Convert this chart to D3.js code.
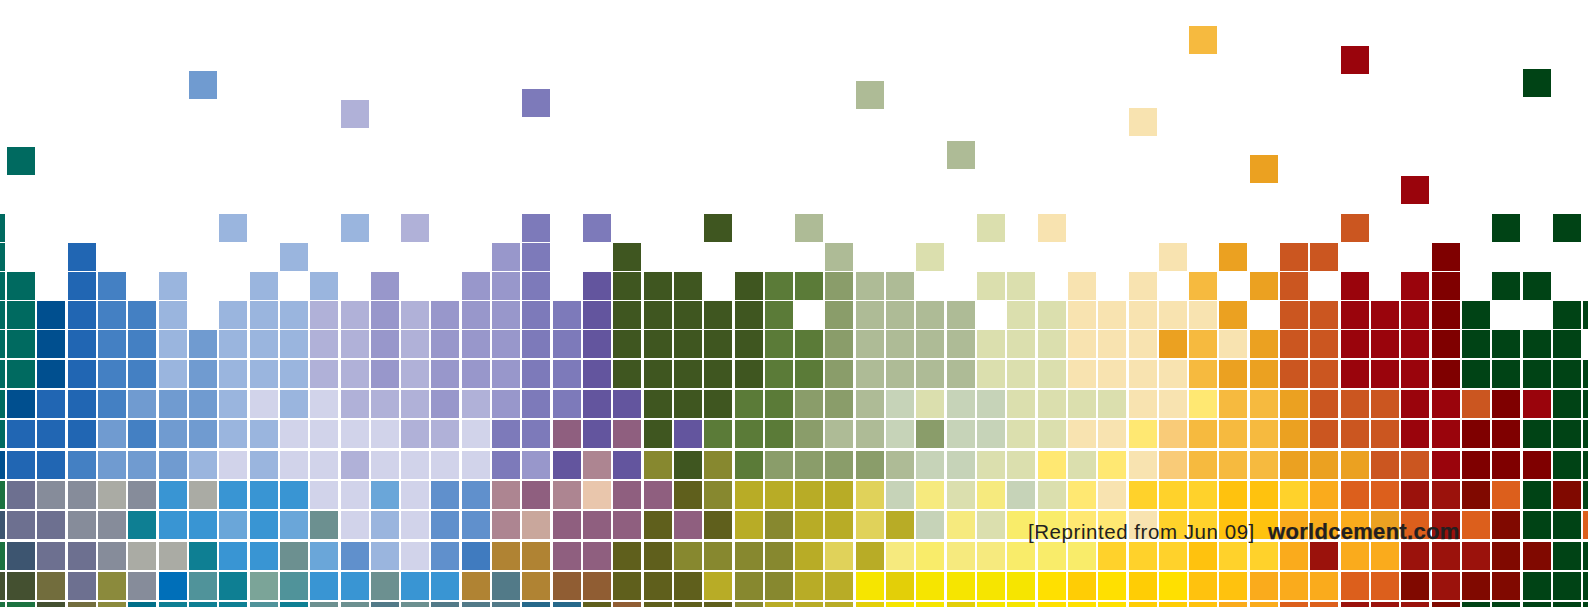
<!DOCTYPE html>
<html>
<head>
<meta charset="utf-8">
<script src="https://cdn.jsdelivr.net/npm/d3@7/dist/d3.min.js"></script>
<style>
html,body{margin:0;padding:0;background:#fff;overflow:hidden}
svg{display:block}
</style>
</head>
<body>
<script>
// column -1 .. 52, one token per column, '.' = no cell
const rowTokens = [
  "T"+".......E.."+".E.P...R.R"+"...g..j..."+"..l.c....."+"....m....d"+".d.",
  "T"+"..B......E"+"......QR.."+"g......j.."+"l.......c."+"a.mm...n.."+"...",
  "T"+"T.BC.E..E."+"E.Q..QQR.S"+"ggg.ghhijj"+"..ll.c.c.o"+".am.r.rn.d"+"d..",
  "T"+"TNBCCE.EEE"+"PPQPQQQRRS"+"gggggh.ijj"+"jj.llccccc"+"a.mmrrrnd."+".dd",
  "T"+"TNBCCEDEEE"+"PPQPQQQRRS"+"ggggghhijj"+"jjlllcccao"+"cammrrrndd"+"dd.",
  "T"+"TNBCCEDEEE"+"PPQPQQQRRS"+"ggggghhijj"+"jjlllcccco"+"aammrrrndd"+"ddd",
  "T"+"NBBCDDDELE"+"LPPPQPQRRS"+"Sggghhiijk"+"lkkllllccy"+"ooammmrrmn"+"rdd",
  "T"+"BBBDCDDEEL"+"LLLPPLRRfS"+"fgShhhijjk"+"ikkllccypo"+"ooammmrrnn"+"ddd",
  "N"+"BBCDDDELEL"+"LPLLLLRQSe"+"Sxgxhiiiij"+"kkllylycpo"+"ooaaammrnn"+"ndd",
  "$"+"AFFGFHGHHH"+"LLILZZefeq"+"ffwxzzzz1k"+"2l2klyc999"+"8890!!@@#!"+"d#d",
  "M"+"AAFFKHHIHI"+"JLELZZesff"+"fwfwzxzz1z"+"k2l33yyc99"+"88000a!@!#"+"dd!",
  "$"+"MAAFGGKHHJ"+"IZELZbttff"+"wwxxxxz1z2"+"3223339998"+"990@00@@@#"+"#dd",
  "O"+"OUAVFWXKYX"+"HHJHHtutvv"+"wwwzxxzz45"+"4444676768"+"8000!!#@##"+"ddd",
  "$"+"$OUV%KKKXK"+"JJuJuuu&&w"+"vwwwxzzz54"+"4544666778"+"00!!@@@#dd"+"ddd"
];

const floatColumns = [0, 6, 11, 17, 28, 31, 37, 39, 41, 44, 46, 50];
const floatRows = [-2.31, -4.93, -3.93, -4.31, -4.59, -2.52, -3.66, -6.48, -2.03, -5.79, -1.31, -5];
const floatTokens = ["T", "D", "P", "R", "j", "j", "c", "o", "a", "r", "r", "d"];

const tokenKeys = ["T","N","B","C","D","E","L","P","Q","R","S","g","h","i","j","k","l","c","y","p","o","a","m","r","n","d",
  "A","F","G","H","I","J","K","M","O","U","V","W","X","Y","Z","b","e","f","q","s","t","u","v","w","x","z",
  "1","2","3","4","5","6","7","8","9","0","!","@","#","$","%","&"];
const tokenColours = ["#006a60","#004f8f","#2166b3","#4480c3","#709bd0","#9ab5de","#d1d3ea","#b0b1d8","#9897cb","#7d7aba","#63559e",
  "#3f5620","#5b7b38","#8a9d6a","#aebb96","#c6d3b8","#dbdfae","#f8e3b0","#ffe872","#f9cb78","#f6ba3f","#eba121","#cb5620","#9a040c","#7f0000","#004315",
  "#6d7090","#868c9a","#aaaba4","#3995d3","#6aa6d9","#6c9090","#0e7f93","#3d5570","#445030","#726d3d","#8b8a3c","#006fb9","#50939a","#7ba498","#6090cc","#407bbf",
  "#ad8591","#8f5f7f","#e9c6ac","#c9a79c","#b08333","#527a88","#905d33","#5f5f1c","#87882f","#b8ac26",
  "#e0d25a","#f6ea7e","#f9ec6a","#f6e500","#e3cf08","#ffe000","#ffcd05","#ffc20e","#ffd22b","#faab1c","#dc5f1c","#9b120c","#800900","#1c7240","#006f88","#26688a"];

const noteText = "[Reprinted from Jun 09]";
const sourceText = "worldcement.com";

const width = 1588, height = 607, cell = 28;
const x = d3.scaleLinear().domain([0, 52]).range([7.1, 1583.2]);
const y = d3.scaleLinear().domain([0, 4, 7, 8, 13]).range([214, 330, 420, 451, 602]);
const colour = d3.scaleOrdinal().domain(tokenKeys).range(tokenColours);

const cells = [];
rowTokens.forEach((tokens, row) => {
  Array.from(tokens).forEach((token, i) => {
    if (token !== ".") cells.push({col: i - 1, row, token});
  });
});
floatColumns.forEach((col, i) => cells.push({col, row: floatRows[i], token: floatTokens[i]}));

const svg = d3.select("body").append("svg").attr("width", width).attr("height", height);

svg.append("g").attr("shape-rendering", "crispEdges")
  .selectAll("rect").data(cells).join("rect")
  .attr("x", d => Math.round(x(d.col)))
  .attr("y", d => Math.round(y(d.row)))
  .attr("width", cell)
  .attr("height", cell)
  .attr("fill", d => colour(d.token));

svg.append("text").text(noteText)
  .attr("x", 1028).attr("y", 539)
  .attr("font-family", "'Liberation Sans', Arial, sans-serif")
  .attr("font-size", 20.5)
  .attr("letter-spacing", 0.55)
  .attr("fill", "#231f20");

svg.append("text").text(sourceText)
  .attr("x", 1268).attr("y", 539)
  .attr("font-family", "'Liberation Sans', Arial, sans-serif")
  .attr("font-weight", "bold")
  .attr("font-size", 22)
  .attr("letter-spacing", 0.3)
  .attr("stroke", "#231f20").attr("stroke-width", 0.25)
  .attr("fill", "#231f20");
</script>
</body>
</html>
